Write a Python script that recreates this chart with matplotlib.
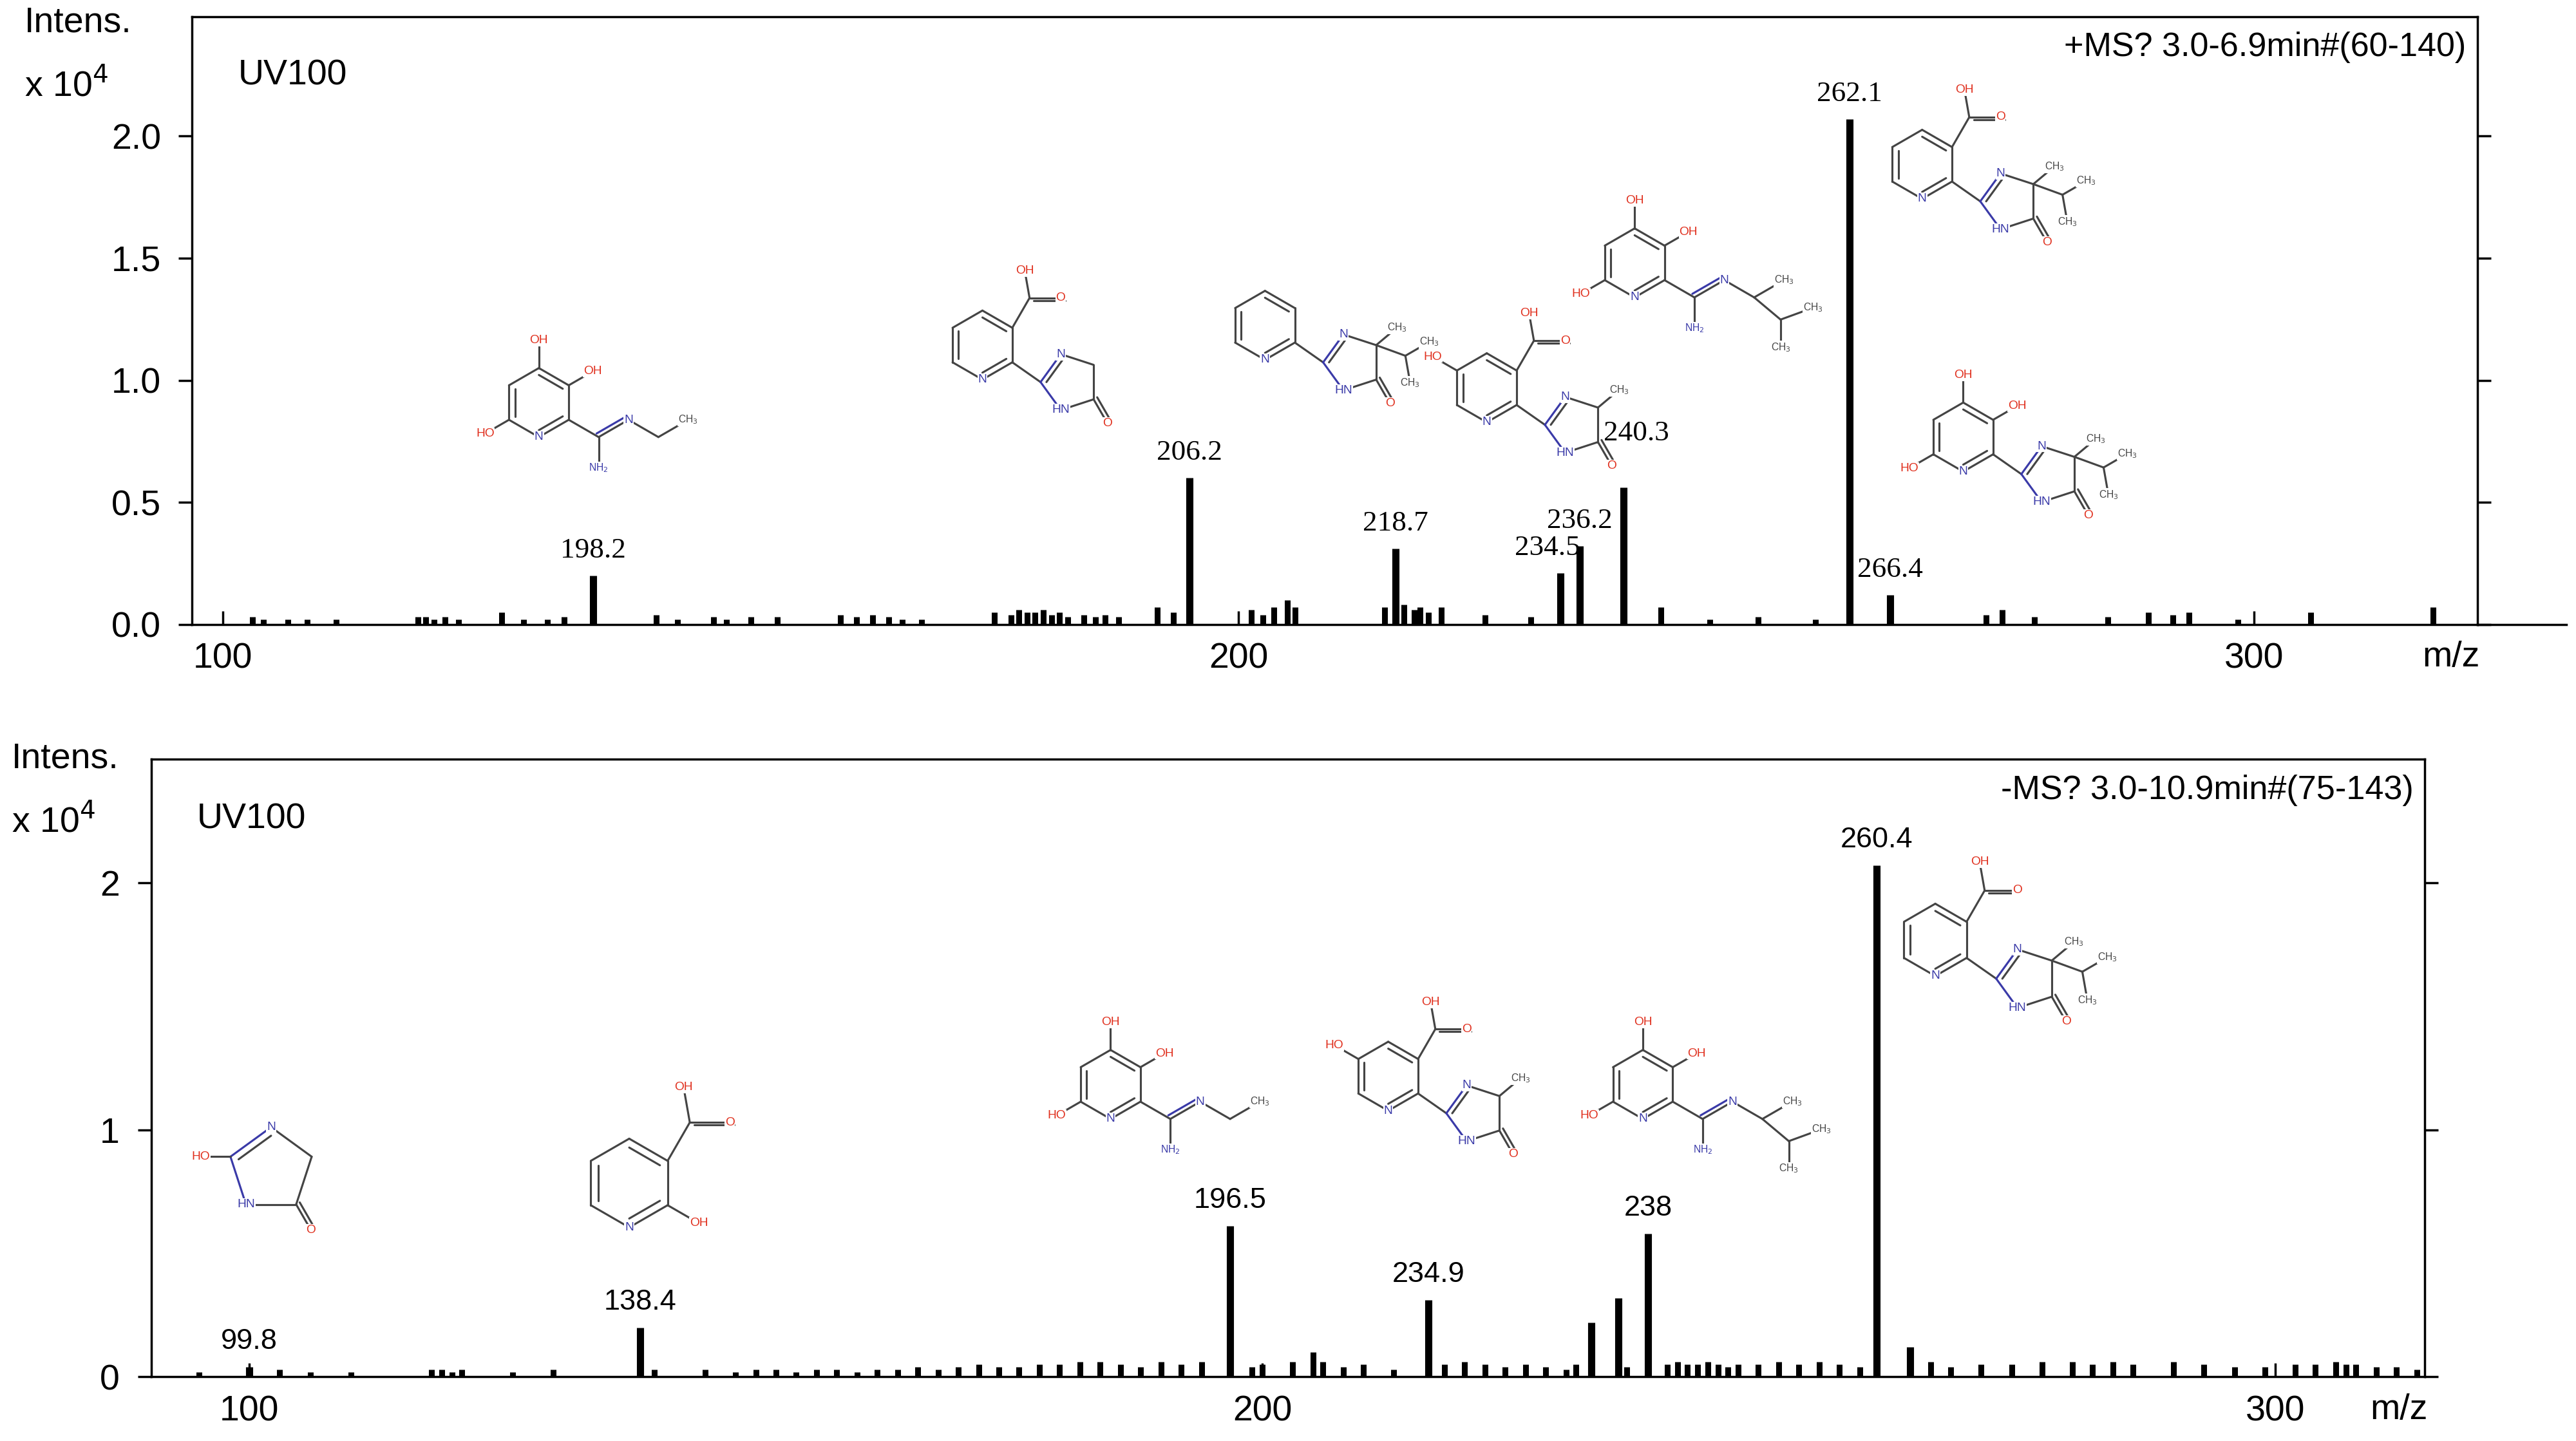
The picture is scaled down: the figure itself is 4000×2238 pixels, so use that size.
import matplotlib
matplotlib.use("Agg")
import matplotlib.pyplot as plt
import numpy as np

plt.rcParams.update({"font.family": ["Liberation Sans", "DejaVu Sans"], "font.size": 14})

# ── data: (m/z position on axis, intensity x10^4) ─────────────
top_main_mz = [136.5, 195.2, 215.5, 231.7, 233.6, 237.9, 260.2, 264.2]
top_main_int = [0.20, 0.60, 0.31, 0.21, 0.32, 0.56, 2.07, 0.12]
top_main_lab = ["198.2", "206.2", "218.7", "234.5", "236.2", "240.3", "262.1", "266.4"]
top_small_mz = [102.9, 104, 106.4, 108.3, 111.2, 119.2, 120, 120.8, 121.9, 123.2, 127.5, 129.6,
                132, 133.6, 142.7, 144.8, 148.3, 149.6, 152, 154.6, 160.8, 162.4, 164, 165.6,
                166.9, 168.8, 176, 177.6, 178.4, 179.2, 180, 180.8, 181.6, 182.4, 183.2, 184.8,
                185.9, 186.9, 188.2, 192, 193.6, 201.3, 202.4, 203.5, 204.8, 205.6, 214.4,
                216.3, 217.3, 217.9, 218.7, 220, 224.3, 228.8, 241.6, 246.4, 251.2, 256.8,
                273.6, 275.2, 278.4, 285.6, 289.6, 292, 293.6, 298.4, 305.6, 317.6]
top_small_int = [0.03, 0.02, 0.02, 0.02, 0.02, 0.03, 0.03, 0.02, 0.03, 0.02, 0.05, 0.02,
                 0.02, 0.03, 0.04, 0.02, 0.03, 0.02, 0.03, 0.03, 0.04, 0.03, 0.04, 0.03,
                 0.02, 0.02, 0.05, 0.04, 0.06, 0.05, 0.05, 0.06, 0.04, 0.05, 0.03, 0.04,
                 0.03, 0.04, 0.03, 0.07, 0.05, 0.06, 0.04, 0.07, 0.10, 0.07, 0.07,
                 0.08, 0.06, 0.07, 0.05, 0.07, 0.04, 0.03, 0.07, 0.02, 0.03, 0.02,
                 0.04, 0.06, 0.03, 0.03, 0.05, 0.04, 0.05, 0.02, 0.05, 0.07]
# label offsets (display px) for crowded peaks
top_lab_dx = [0, 0, 0, -8, 0, 8, 0, 0]
top_lab_dy = [0, 0, 0, 0, 0, 0.12, 0, 0]

bot_main_mz = [100.0, 138.6, 196.8, 216.4, 232.5, 235.2, 238.1, 260.7, 264.0]
bot_main_int = [0.04, 0.20, 0.61, 0.31, 0.22, 0.32, 0.58, 2.07, 0.12]
bot_main_lab = ["99.8", "138.4", "196.5", "234.9", None, None, "238", "260.4", None]
bot_small_mz = [95, 103, 106, 110, 118, 119, 120, 121, 126, 130, 140, 145, 148, 150, 152, 154,
                156, 158, 160, 162, 164, 166, 168, 170, 172, 174, 176, 178, 180, 182, 184, 186,
                188, 190, 192, 194, 199, 200, 203, 205, 206, 208, 210, 213, 218, 220, 222, 224,
                226, 228, 230, 231, 236, 240, 241, 242, 243, 244, 245, 246, 247, 249, 251, 253,
                255, 257, 259, 266, 268, 271, 274, 277, 280, 282, 284, 286, 290, 293, 296, 299,
                302, 304, 306, 307, 308, 310, 312, 314]
bot_small_int = [0.02, 0.03, 0.02, 0.02, 0.03, 0.03, 0.02, 0.03, 0.02, 0.03, 0.03, 0.03, 0.02, 0.03, 0.03, 0.02,
                 0.03, 0.03, 0.02, 0.03, 0.03, 0.04, 0.03, 0.04, 0.05, 0.04, 0.04, 0.05, 0.05, 0.06, 0.06, 0.05,
                 0.04, 0.06, 0.05, 0.06, 0.04, 0.05, 0.06, 0.10, 0.06, 0.04, 0.05, 0.03, 0.05, 0.06, 0.05, 0.04,
                 0.05, 0.04, 0.03, 0.05, 0.04, 0.05, 0.06, 0.05, 0.05, 0.06, 0.05, 0.04, 0.05, 0.05, 0.06, 0.05,
                 0.06, 0.05, 0.04, 0.06, 0.04, 0.05, 0.05, 0.06, 0.06, 0.05, 0.06, 0.05, 0.06, 0.05, 0.04, 0.04,
                 0.05, 0.05, 0.06, 0.05, 0.05, 0.04, 0.04, 0.03]

fig = plt.figure(figsize=(16, 8.952), dpi=250)
W, H = 1568, 877

def panel(rect, xlim, ylim, yticks, ylabels, main_mz, main_int, labs, small_mz, small_int,
          title, ldx=None, ldy=None, lab_family="Liberation Serif"):
    ax = fig.add_axes(rect)
    ax.vlines(small_mz, 0, small_int, color="black", lw=2.6)
    ax.vlines(main_mz, 0, main_int, color="black", lw=3.2)
    ldx = ldx or [0]*len(main_mz); ldy = ldy or [0]*len(main_mz)
    for x, y, t, dx, dy in zip(main_mz, main_int, labs, ldx, ldy):
        if t:
            ax.text(x + dx*(xlim[1]-xlim[0])/rect[2]/W, y + 0.05 + dy, t, ha="center",
                    va="bottom", fontsize=13, family=lab_family)
    ax.set_xlim(*xlim); ax.set_ylim(*ylim)
    ax.set_xticks([100, 200, 300]); ax.set_xticklabels(["100", "200", "300"], fontsize=16)
    ax.set_yticks(yticks); ax.set_yticklabels(ylabels, fontsize=16)
    ax.tick_params(direction="in", right=True, length=6, width=1, pad=8)
    ax.tick_params(axis="y", direction="out")
    for s in ax.spines.values():
        s.set_linewidth(1)
    ax.text(0.02, 0.93, "UV100", transform=ax.transAxes, fontsize=16, va="top")
    ax.text(0.995, 0.975, title, transform=ax.transAxes, fontsize=15, va="top", ha="right")
    return ax

ax1 = panel([117/W, 1-380/H, (1508-117)/W, 370/H], (97, 322), (0, 2.49),
            [0, 0.5, 1.0, 1.5, 2.0], ["0.0", "0.5", "1.0", "1.5", "2.0"],
            top_main_mz, top_main_int, top_main_lab, top_small_mz, top_small_int,
            "+MS? 3.0-6.9min#(60-140)", top_lab_dx, top_lab_dy)
ax2 = panel([92/W, 1-838/H, (1476-92)/W, 376/H], (90.3, 314.8), (0, 2.5),
            [0, 1, 2], ["0", "1", "2"],
            bot_main_mz, bot_main_int, bot_main_lab, bot_small_mz, bot_small_int,
            "-MS? 3.0-10.9min#(75-143)", lab_family="Liberation Sans")

# overlay in display pixel coordinates for labels and structures
ov = fig.add_axes([0, 0, 1, 1], facecolor="none")
ov.set_xlim(0, W); ov.set_ylim(H, 0); ov.axis("off")
ov.plot([1508, 1562], [380, 380], color="black", lw=1)
for y, xl in [(22, 15), (470, 7)]:
    ov.text(xl, y - 8, "Intens.", fontsize=16, va="center")
    ov.text(xl, y + 30, r"x 10$^4$", fontsize=16, va="center")
ov.text(1492, 400, "m/z", fontsize=16, ha="center", va="center")
ov.text(1460, 858, "m/z", fontsize=16, ha="center", va="center")

RED = "#e0301e"; BLUE = "#3a3aa8"; GR = "#444444"
LW = 0.9

def line(p, q, c=GR):
    ov.plot([p[0], q[0]], [p[1], q[1]], color=c, lw=LW, solid_capstyle="round")

def dbl(p, q, cen, f=0.2):
    a = np.array(p) + (np.array(cen) - np.array(p)) * f
    b = np.array(q) + (np.array(cen) - np.array(q)) * f
    line(a, b)

def atom(p, t, c, fs=5.5):
    ov.text(p[0], p[1], t, color=c, fontsize=fs, ha="center", va="center",
            bbox=dict(fc="white", ec="none", pad=0.3))

def hexring(cx, cy, r, nidx=3):
    pts = [(cx + r*np.cos(np.radians(a)), cy - r*np.sin(np.radians(a)))
           for a in [90, 30, -30, -90, -150, 150]]
    for i in range(6):
        line(pts[i], pts[(i+1) % 6])
    for i in [0, 2, 4]:
        dbl(pts[i], pts[(i+1) % 6], (cx, cy))
    if nidx is not None:
        atom(pts[nidx], "N", BLUE)
    return pts

def off(p, ang, d):
    return (p[0] + d*np.cos(np.radians(ang)), p[1] - d*np.sin(np.radians(ang)))

def cooh(p, r):
    c = off(p, 60, r)
    line(p, c)
    o1 = off(c, 0, r*0.9); o2 = off(c, 100, r*0.8)
    line(c, o1); line(off(c, -30, 3), off(o1, -30, 3))
    line(c, o2)
    atom(o1, "O", RED); atom(o2, "OH", RED)

def imid(p, r, subs=2):
    c2 = off(p, -35, r)
    line(p, c2)
    cen = off(c2, 0, r*0.85)
    pts = [off(cen, a, r*0.85) for a in [180, 108, 36, -36, -108]]
    for i in range(5):
        line(pts[i], pts[(i+1) % 5], BLUE if i in (0, 4) else GR)
    dbl(pts[0], pts[1], cen)
    atom(pts[1], "N", BLUE); atom(pts[4], "HN", BLUE)
    o = off(pts[3], -60, r*0.8); line(pts[3], o)
    line(off(pts[3], 30, 2.5), off(o, 30, 2.5)); atom(o, "O", RED)
    if subs >= 1:
        m = off(pts[2], 40, r*0.8); line(pts[2], m); atom(m, "CH$_3$", GR, 4.5)
    if subs >= 2:
        i1 = off(pts[2], -20, r*0.9); line(pts[2], i1)
        a = off(i1, 30, r*0.8); b = off(i1, -80, r*0.8)
        line(i1, a); line(i1, b)
        atom(a, "CH$_3$", GR, 4.5); atom(b, "CH$_3$", GR, 4.5)

def amidine(p, r, branch=False):
    c = off(p, -30, r)
    line(p, c)
    nh2 = off(c, -90, r*0.9); line(c, nh2); atom(nh2, "NH$_2$", BLUE, 4.5)
    n = off(c, 30, r); line(c, n); line(off(c, 120, 2.5), off(n, 120, 2.5), BLUE)
    atom(n, "N", BLUE)
    e1 = off(n, -30, r); line(n, e1)
    if branch:
        e2 = off(e1, 30, r); line(e1, e2); atom(e2, "CH$_3$", GR, 4.5)
        e3 = off(e1, -40, r); line(e1, e3)
        a = off(e3, 20, r); b = off(e3, -90, r*0.8); line(e3, a); line(e3, b)
        atom(a, "CH$_3$", GR, 4.5); atom(b, "CH$_3$", GR, 4.5)
    else:
        e2 = off(e1, 30, r); line(e1, e2); atom(e2, "CH$_3$", GR, 4.5)

def oh_pair(pts, r):
    a = off(pts[0], 90, r*0.8); line(pts[0], a); atom(a, "OH", RED)
    b = off(pts[1], 30, r*0.8); line(pts[1], b); atom(b, "OH", RED)
    c = off(pts[4], -150, r*0.8); line(pts[4], c); atom(c, "HO", RED)

def mol_acid(cx, cy, r, ho=False, subs=2, acid=True, ohs=False):
    pts = hexring(cx, cy, r, nidx=3)
    if acid:
        cooh(pts[1], r)
    if ho:
        h = off(pts[5], 150, r*0.8); line(pts[5], h); atom(h, "HO", RED)
    if ohs:
        oh_pair(pts, r)
    imid(pts[2], r, subs)

def mol_amid(cx, cy, r, branch=False):
    pts = hexring(cx, cy, r, nidx=3)
    oh_pair(pts, r)
    amidine(pts[2], r, branch)

r = 21
# top panel structures
mol_amid(328, 245, r)
mol_acid(598, 210, r, subs=0)
mol_acid(770, 198, r, acid=False)
mol_acid(905, 236, r, ho=True, subs=1)
mol_amid(995, 160, r, branch=True)
mol_acid(1170, 100, r)
mol_acid(1195, 266, r, acid=False, ohs=True)
# bottom panel structures
cen = (165, 712)
pts = [off(cen, a, 26) for a in [162, 90, 18, -54, -126]]
for i in range(5):
    line(pts[i], pts[(i+1) % 5], BLUE if i in (0, 4) else GR)
dbl(pts[0], pts[1], cen)
atom(pts[1], "N", BLUE); atom(pts[4], "HN", BLUE)
h = off(pts[0], 180, 18); line(pts[0], h); atom(h, "HO", RED)
o = off(pts[3], -60, 18); line(pts[3], o); line(off(pts[3], 30, 2.5), off(o, 30, 2.5))
atom(o, "O", RED)
pts = hexring(383, 720, 27, nidx=3)
cooh(pts[1], 27)
o = off(pts[2], -30, 22); line(pts[2], o); atom(o, "OH", RED)
mol_amid(676, 660, r)
mol_acid(845, 655, r, ho=True, subs=1)
mol_amid(1000, 660, r, branch=True)
mol_acid(1178, 572, 22)

fig.savefig("out.png", dpi=250, facecolor="white")
